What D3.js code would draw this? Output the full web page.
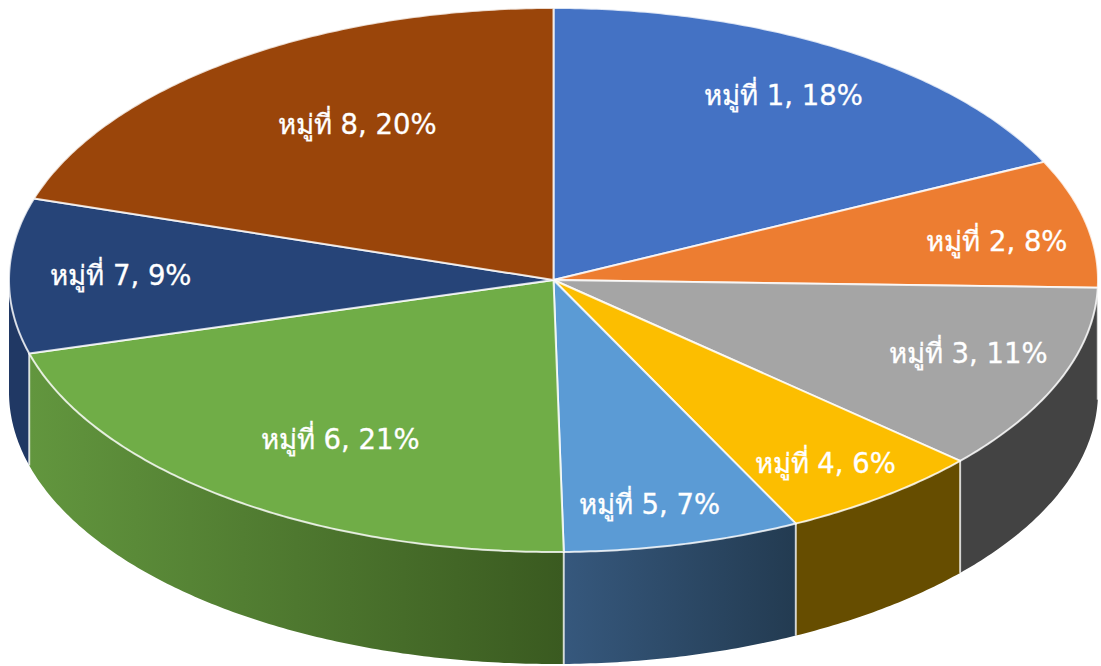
<!DOCTYPE html>
<html>
<head>
  <meta charset="utf-8">
  <script src="https://d3js.org/d3.v7.min.js"></script>
  <style>
    html, body {
      margin: 0px;
      padding: 0px;
      background: #fff;
    }

    text {
      font-family: "DejaVu Sans", "Noto Sans", sans-serif;
      font-size: 27.5px;
      fill: #fff;
      stroke: #fff;
      stroke-width: 0.3px;
      text-anchor: middle;
      dominant-baseline: middle;
    }
  </style>
</head>
<body>
  <div id="chart"></div>
  <script>

      /*
      DATA
      */
      const categories = ["หมู่ที่ 1", "หมู่ที่ 2", "หมู่ที่ 3", "หมู่ที่ 4", "หมู่ที่ 5", "หมู่ที่ 6", "หมู่ที่ 7", "หมู่ที่ 8"];
      const shares = [17.85, 7.6, 11.13, 6.08, 7.04, 20.95, 9.2, 20.15];
      const percentLabels = ["18%", "8%", "11%", "6%", "7%", "21%", "9%", "20%"];

      /*
      COLOURS: top face, then left and right of the side wall
      */
      const topColors = ["#4472c4", "#ed7d31", "#a5a5a5", "#fcbe00", "#5b9bd5", "#70ad47", "#264478", "#9a450a"];
      const wallLeft = ["#2a4478", "#8e4b1d", "#434343", "#664d00", "#36587d", "#62963e", "#203864", "#5f2b08"];
      const wallRight = ["#2a4478", "#8e4b1d", "#434343", "#664d00", "#233b51", "#3a5a20", "#203864", "#5f2b08"];

      // label shift from the arc centroid, px
      const labelNudge = [[4, -3], [28, 7], [20, -3], [14, 16], [-5, 20], [40, -9], [-8, 0], [55, 17]];

      /*
      SETTING UP THE SVG CANVAS
      */
      const width = 1101;
      const height = 666;
      const wallDepth = 112;

      const svg = d3.select("#chart")
        .append("svg")
        .attr("width", width)
        .attr("height", height)
        .style("display", "block");

      /*
      SCALES: unit circle to the flattened ellipse
      */
      const xScale = d3.scaleLinear().domain([-1, 1]).range([9, 1098]);
      const yScale = d3.scaleLinear().domain([-1, 1]).range([8, 552]);

      function px(a, r) { return xScale(r * Math.sin(a)); }
      function py(a, r) { return yScale(-r * Math.cos(a)); }

      function rimAngles(a0, a1) {
        const n = Math.max(2, Math.ceil((a1 - a0) / 0.01));
        return d3.range(n + 1).map(function(i) { return a0 + (a1 - a0) * i / n; });
      }

      const line = d3.line();

      const slices = d3.pie().sort(null).startAngle(0).endAngle(2 * Math.PI)(shares);

      /*
      SIDE WALLS: only the part of each slice that faces the front
      */
      const defs = svg.append("defs");
      slices.forEach(function(d, i) {
        const g = defs.append("linearGradient").attr("id", "wall" + i);
        g.append("stop").attr("offset", "0%").attr("stop-color", wallLeft[i]);
        g.append("stop").attr("offset", "100%").attr("stop-color", wallRight[i]);
      });

      const walls = slices.map(function(d, i) {
        return {
          index: i,
          a0: Math.max(d.startAngle, Math.PI / 2),
          a1: Math.min(d.endAngle, 3 * Math.PI / 2)
        };
      }).filter(function(w) { return w.a1 > w.a0; });

      svg.selectAll(".wall")
        .data(walls)
        .enter()
        .append("path")
          .attr("class", "wall")
          .attr("fill", function(w) { return "url(#wall" + w.index + ")"; })
          .attr("stroke", "none")
          .attr("d", function(w) {
            const rim = rimAngles(w.a0, w.a1);
            const upper = rim.map(function(a) { return [px(a, 1), py(a, 1)]; });
            const lower = rim.slice().reverse().map(function(a) { return [px(a, 1), py(a, 1) + wallDepth]; });
            return line(upper.concat(lower)) + "Z";
          });

      // vertical seams between the walls
      svg.selectAll(".seam")
        .data(slices.filter(function(d) { return d.endAngle > Math.PI / 2 && d.endAngle < 3 * Math.PI / 2; }))
        .enter()
        .append("line")
          .attr("class", "seam")
          .attr("x1", function(d) { return px(d.endAngle, 1); })
          .attr("x2", function(d) { return px(d.endAngle, 1); })
          .attr("y1", function(d) { return py(d.endAngle, 1); })
          .attr("y2", function(d) { return py(d.endAngle, 1) + wallDepth; })
          .attr("stroke", "#fff")
          .attr("stroke-opacity", 0.75)
          .attr("stroke-width", 2);

      /*
      TOP FACES
      */
      svg.selectAll(".slice")
        .data(slices)
        .enter()
        .append("path")
          .attr("class", "slice")
          .attr("fill", function(d, i) { return topColors[i]; })
          .attr("stroke", "#fff")
          .attr("stroke-opacity", 0.8)
          .attr("stroke-width", 2)
          .attr("stroke-linejoin", "round")
          .attr("d", function(d) {
            const rim = rimAngles(d.startAngle, d.endAngle).map(function(a) { return [px(a, 1), py(a, 1)]; });
            return line([[px(0, 0), py(0, 0)]].concat(rim)) + "Z";
          });

      /*
      LABELS
      */
      svg.selectAll(".label")
        .data(slices)
        .enter()
        .append("text")
          .attr("class", "label")
          .attr("x", function(d, i) { return px((d.startAngle + d.endAngle) / 2, 0.78) + labelNudge[i][0]; })
          .attr("y", function(d, i) { return py((d.startAngle + d.endAngle) / 2, 0.78) + labelNudge[i][1]; })
          .text(function(d, i) { return categories[i] + ", " + percentLabels[i]; });

  </script>
</body>
</html>
